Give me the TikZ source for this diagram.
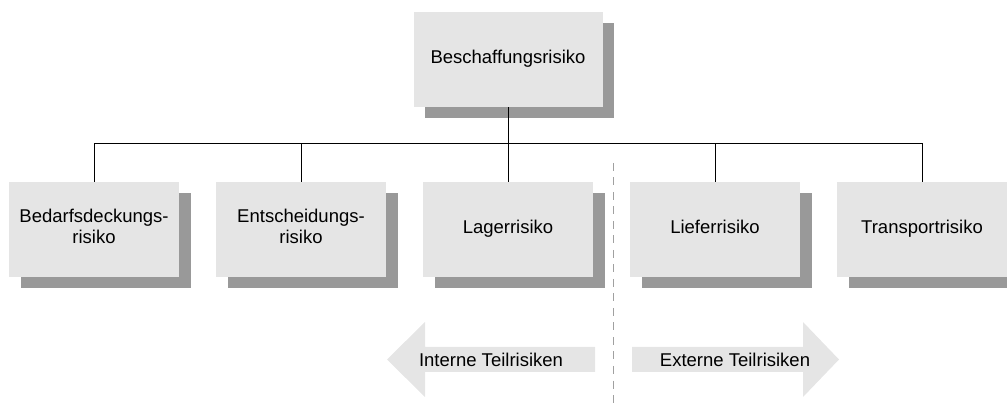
\documentclass[tikz,border=0pt]{standalone}
\definecolor{boxfill}{RGB}{229,229,229}
\definecolor{shade}{RGB}{153,153,153}
\definecolor{divline}{RGB}{160,160,160}
\usepackage{fontspec}
\setmainfont{Liberation Sans}
\usepackage{tikz}
\usetikzlibrary{shadows}
\tikzset{
  riskbox/.style={fill=boxfill, minimum width=170pt, minimum height=95pt,
              inner sep=0pt, align=center, font=\fontsize{18.5}{21}\selectfont,
              execute at begin node=\strut, execute at end node=\strut,
              drop shadow={shadow xshift=11.5pt, shadow yshift=-11.5pt,
                           fill=shade, opacity=1}},
  branch/.style={draw=black, line width=1pt},
  side/.style={fill=boxfill},
  sidelabel/.style={font=\fontsize{18.5}{21}\selectfont, inner sep=0pt},
}
\begin{document}
\begin{tikzpicture}[x=1pt, y=-1pt]
  \useasboundingbox (0,0) rectangle (1007,403);

  \node[riskbox, minimum width=189pt] (top) at (508,59.5) {Beschaffungsrisiko};

  \node[riskbox] (bedarf)    at (94,229.5)  {Bedarfsdeckungs-\\risiko};
  \node[riskbox] (entsch)    at (301,229.5) {Entscheidungs-\\risiko};
  \node[riskbox] (lager)     at (508,229.5) {Lagerrisiko};
  \node[riskbox] (liefer)    at (715,229.5) {Lieferrisiko};
  \node[riskbox] (transport) at (922,229.5) {Transportrisiko};

  % tree lines
  \coordinate (bar) at (top.south |- 0,144);
  \draw[branch] (top.south) -- (bar);
  \foreach \n in {bedarf,entsch,lager,liefer,transport}
    \draw[branch] (bar) -| (\n.north);

  % split internal / external
  \draw[divline, line width=1pt, dash pattern=on 8pt off 6.5pt] (613,163) -- (613,403);

  \fill[side] (387,359.5) -- (425,322) -- (425,347) -- (595,347)
    -- (595,372) -- (425,372) -- (425,397) -- cycle;
  \node[sidelabel] (intern) at (491,359.5) {Interne Teilrisiken};

  \fill[side] (839,359.5) -- (803,322) -- (803,347) -- (632,347)
    -- (632,372) -- (803,372) -- (803,397) -- cycle;
  \node[sidelabel] (extern) at (735,359.5) {Externe Teilrisiken};
\end{tikzpicture}
\end{document}
